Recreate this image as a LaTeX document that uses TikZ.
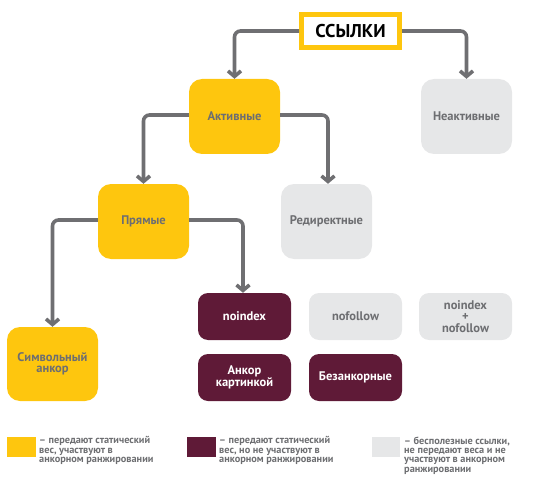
\documentclass[tikz,border=0pt]{standalone}
\usepackage{fontspec}
\setmainfont{PT Sans}
\usetikzlibrary{arrows.meta}
\definecolor{cyel}{HTML}{FEC60E}
\definecolor{cmar}{HTML}{5F1A37}
\definecolor{cgry}{HTML}{E6E7E8}
\definecolor{ctxt}{HTML}{6D6E71}
\definecolor{cline}{HTML}{6F6F72}
\tikzset{
  box/.style={rectangle, rounded corners=13pt, inner sep=1pt, align=center,
    font=\fontsize{12.5}{11.5}\selectfont\bfseries, text=ctxt},
  bigbox/.style={box, minimum width=91pt, minimum height=75pt},
  smallbox/.style={box, minimum width=93pt, minimum height=47pt, rounded corners=10pt},
  yel/.style={fill=cyel},
  mar/.style={fill=cmar, text=white},
  gry/.style={fill=cgry},
  conn/.style={draw=cline, line width=3.6pt, rounded corners=6pt,
    -{Straight Barb[length=5.5pt,width=13pt]}},
  legsq/.style={rectangle, inner sep=0pt, minimum width=29pt, minimum height=20pt},
  legtxt/.style={anchor=north west, inner sep=0pt, align=left, text=ctxt,
    font=\fontsize{10.3}{9.4}\selectfont\bfseries}
}
\begin{document}
\begin{tikzpicture}[x=1pt,y=-1pt]
\useasboundingbox (0,0) rectangle (540,481);
\node[rectangle, draw=cyel, line width=5pt, fill=white, minimum width=98pt, minimum height=33pt,
  inner sep=0pt, font=\fontsize{18.5}{18}\selectfont\bfseries, text=black] (ss) at (350.5,31) {ССЫЛКИ};
\node[bigbox,yel] (akt) at (234.5,116.5) {Активные};
\node[bigbox,gry] (neakt) at (466.5,116.5) {Неактивные};
\node[bigbox,yel] (pr) at (143.5,221.5) {Прямые};
\node[bigbox,gry] (red) at (326.5,221.5) {Редиректные};
\node[smallbox,mar] (noi) at (244.5,316.5) {noindex};
\node[smallbox,gry] (nof) at (355.5,316.5) {nofollow};
\node[smallbox,gry] (nn) at (465.5,316.5) {noindex\\+\\nofollow};
\node[bigbox,yel, minimum height=74pt] (sim) at (52.5,364) {Символьный\\анкор};
\node[smallbox,mar] (ank) at (244.5,377.5) {Анкор\\картинкой};
\node[smallbox,mar] (bez) at (355.5,377.5) {Безанкорные};

\draw[conn] (ss.west) -| (akt.north);
\draw[conn] (ss.east) -| (neakt.north);
\draw[conn] ([yshift=1.5pt]akt.west) -| (pr.north);
\draw[conn] ([yshift=1.5pt]akt.east) -| ([xshift=1.5pt]red.north);
\draw[conn] ([yshift=1.5pt]pr.west) -| (sim.north);
\draw[conn] ([yshift=1.5pt]pr.east) -| ([xshift=-1.5pt]noi.north);

\node[legsq, fill=cyel] (l1) at (21.5,447) {};
\node[legtxt] (t1) at (39,436.5) {– передают статический\\вес, участвуют в\\анкорном ранжировании};
\node[legsq, fill=cmar] (l2) at (201.5,447) {};
\node[legtxt] (t2) at (219,436.5) {– передают статический\\вес, но не участвуют в\\анкорном ранжировании};
\node[legsq, fill=cgry, minimum width=28pt] (l3) at (386,447) {};
\node[legtxt] (t3) at (404,436.5) {– бесполезные ссылки,\\не передают веса и не\\участвуют в анкорном\\ранжировании};
\end{tikzpicture}
\end{document}
